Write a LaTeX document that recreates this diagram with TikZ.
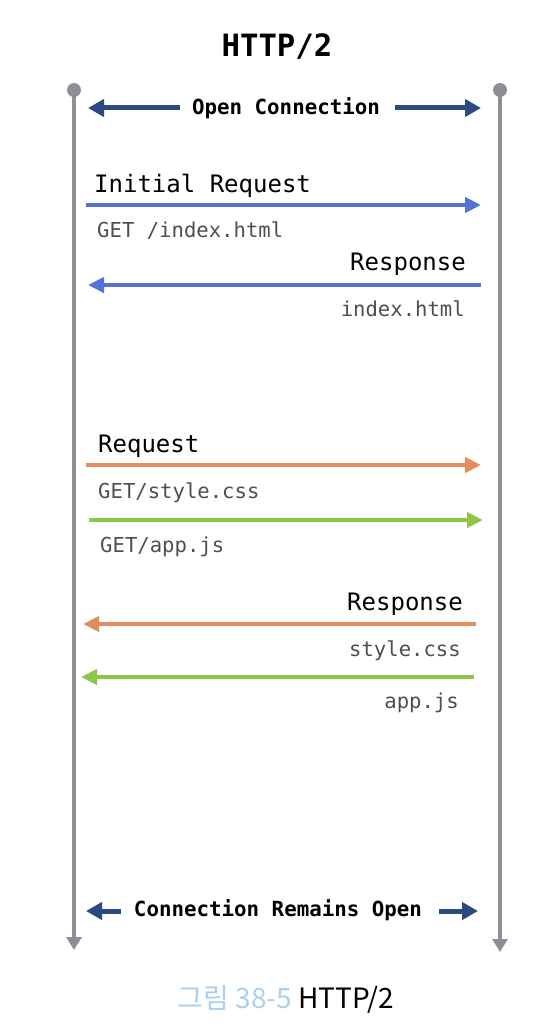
\documentclass[tikz,border=0pt]{standalone}
\usepackage{fontspec}
\setmonofont{DejaVu Sans Mono}
\newfontfamily\krfont{Noto Sans CJK KR}
\usetikzlibrary{arrows.meta}
\definecolor{lifegray}{HTML}{8C9096}
\definecolor{darkblue}{HTML}{2B4A80}
\definecolor{msgblue}{HTML}{5272D4}
\definecolor{msgorange}{HTML}{E38D5F}
\definecolor{msggreen}{HTML}{8FC649}
\definecolor{txtgray}{HTML}{4A4F55}
\definecolor{capblue}{HTML}{A9D0F0}
\tikzset{
  lifeline/.style={draw=lifegray, line width=4pt, -{Triangle[length=13pt,width=15pt]}},
  conn/.style={draw=darkblue, line width=5pt, -{Triangle[length=16pt,width=17pt]}},
  msg/.style={line width=4.5pt, -{Triangle[length=16pt,width=15pt]}},
  head/.style={inner sep=0pt, font=\ttfamily\fontsize{24}{28}\selectfont, text=black},
  lbl/.style={inner sep=0pt, font=\ttfamily\fontsize{20.6}{24}\selectfont, text=txtgray},
  bold/.style={inner sep=0pt, font=\ttfamily\bfseries\fontsize{20.8}{24}\selectfont, text=black},
  dot/.style={circle, fill=lifegray, minimum size=14pt, inner sep=0pt}
}
\begin{document}
\begin{tikzpicture}[x=1pt,y=-1pt]
\useasboundingbox (0,0) rectangle (544,1030);
% title
\node[inner sep=0pt, anchor=base, font=\ttfamily\bfseries\fontsize{30.7}{34}\selectfont] (title) at (277,57) {HTTP/2};
% lifelines
\node[dot] (lt) at (74,90) {};
\node[dot] (rt) at (500,90) {};
\coordinate (lb) at (74,950);
\coordinate (rb) at (500,952);
\draw[lifeline] (lt.center) -- (lb);
\draw[lifeline] (rt.center) -- (rb);
% open connection
\node[bold, anchor=base] (open) at (286,115) {Open Connection};
\coordinate (o1) at (180,108); \coordinate (o2) at (88,108);
\coordinate (o3) at (395,108); \coordinate (o4) at (481,108);
\draw[conn] (o1) -- (o2);
\draw[conn] (o3) -- (o4);
% initial request
\node[head, anchor=base west] (ireq) at (94,192) {Initial Request};
\coordinate (a1) at (86,205); \coordinate (a2) at (481,205);
\draw[msg, msgblue] (a1) -- (a2);
\node[lbl, anchor=base west] (getidx) at (97,237) {GET /index.html};
\node[head, anchor=base east] (resp1) at (466,270) {Response};
\coordinate (b1) at (481,285); \coordinate (b2) at (88,285);
\draw[msg, msgblue] (b1) -- (b2);
\node[lbl, anchor=base east] (idx) at (465,316) {index.html};
% request
\node[head, anchor=base west] (req) at (98,452) {Request};
\coordinate (c1) at (86,465); \coordinate (c2) at (481,465);
\draw[msg, msgorange] (c1) -- (c2);
\node[lbl, anchor=base west] (getcss) at (98,498) {GET/style.css};
\coordinate (d1) at (89,520); \coordinate (d2) at (483,520);
\draw[msg, msggreen] (d1) -- (d2);
\node[lbl, anchor=base west] (getjs) at (100,552) {GET/app.js};
% response
\node[head, anchor=base east] (resp2) at (463,610) {Response};
\coordinate (e1) at (476,624); \coordinate (e2) at (83,624);
\draw[msg, msgorange] (e1) -- (e2);
\node[lbl, anchor=base east] (css) at (461,656) {style.css};
\coordinate (f1) at (474,677); \coordinate (f2) at (81,677);
\draw[msg, msggreen] (f1) -- (f2);
\node[lbl, anchor=base east] (js) at (459,708) {app.js};
% remains open
\node[bold, anchor=base] (remain) at (278,916) {Connection Remains Open};
\coordinate (g1) at (121,911); \coordinate (g2) at (86,911);
\coordinate (g3) at (439,911); \coordinate (g4) at (478,911);
\draw[conn] (g1) -- (g2);
\draw[conn] (g3) -- (g4);
% caption
\node[inner sep=0pt, anchor=base, font=\krfont\fontsize{28}{32}\selectfont] (cap) at (286,1008) {\textcolor{capblue}{그림 38-5} HTTP/2};
\end{tikzpicture}
\end{document}
